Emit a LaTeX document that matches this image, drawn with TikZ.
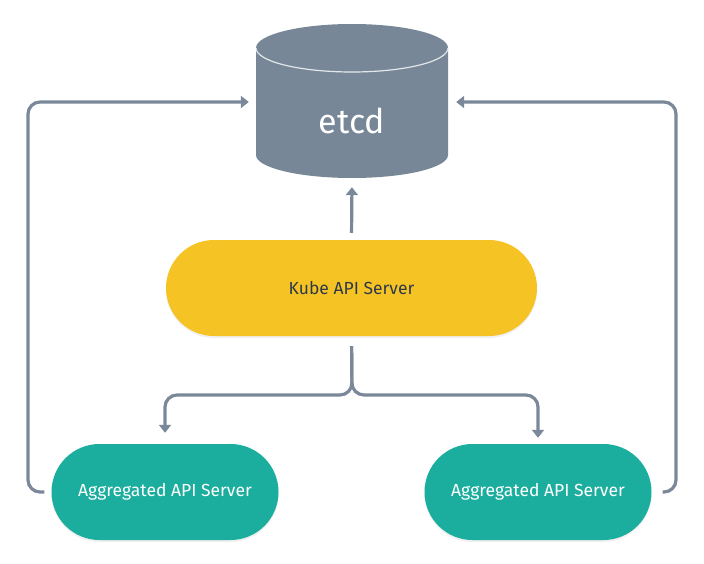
\documentclass[tikz,border=0pt]{standalone}
\usepackage{fontspec}
\setmainfont{Fira Sans}
\usetikzlibrary{arrows.meta,shapes.misc,shadows}
\definecolor{linec}{HTML}{7A8899}
\definecolor{etcdc}{HTML}{778797}
\definecolor{kubec}{HTML}{F6C325}
\definecolor{aggc}{HTML}{1BAE9E}
\definecolor{textd}{HTML}{2E3A4A}
\tikzset{
  conn/.style={draw=linec, line width=3.2pt, rounded corners=12pt, -{Triangle[length=8pt,width=12pt]}},
  pill/.style={rounded rectangle, minimum height=96pt, inner sep=0pt,
    drop shadow={opacity=0.12, shadow xshift=0pt, shadow yshift=-2pt}},
  kubebox/.style={pill, fill=kubec, minimum width=371pt, text=textd, font=\fontsize{17.5}{20}\selectfont},
  aggbox/.style={pill, fill=aggc, minimum width=227pt, text=white, font=\fontsize{17.5}{20}\selectfont},
}
\begin{document}
\begin{tikzpicture}[x=1pt,y=-1pt]
\useasboundingbox (0,0) rectangle (704,564);
% etcd cylinder
\fill[etcdc] (256,48) -- (256,155) arc[start angle=180,end angle=0,x radius=96,y radius=23] -- (448,48) arc[start angle=0,end angle=-180,x radius=96,y radius=24] -- cycle;
\draw[white, opacity=0.8, line width=1.2pt] (256,48) arc[start angle=180,end angle=0,x radius=96,y radius=24];
\node[minimum width=192pt, minimum height=154pt, inner sep=0pt] (etcd) at (352,101) {};
\node[text=white, font=\fontsize{34}{38}\selectfont] (etcdlabel) at (352,121) {etcd};

\node[kubebox] (kube) at (351.5,288) {\raisebox{-1pt}{Kube API Server}};
\node[aggbox] (agg1) at (165,492) {\raisebox{-1.5pt}{Aggregated API Server}};
\node[aggbox] (agg2) at (538,492) {\raisebox{-1.5pt}{Aggregated API Server}};

% kube -> etcd
\draw[conn, shorten <=7pt, shorten >=9pt] (kube.north) -- (etcd.south);
% kube -> aggregated servers
\draw[conn, shorten <=10pt, shorten >=11pt] (kube.south) -- (352,395) -- (165,395) -- (agg1.north);
\draw[conn, shorten <=10pt, shorten >=6pt] (kube.south) -- (352,395) -- (538,395) -- (agg2.north);
% aggregated -> etcd loops
\draw[conn, shorten <=7pt, shorten >=7pt] (agg1.west) -- (28,492) -- (28,102) -- (etcd.west |- 0,102);
\draw[conn, shorten <=11pt, shorten >=8pt] (agg2.east) -- (676,492) -- (676,102) -- (etcd.east |- 0,102);
\end{tikzpicture}
\end{document}
